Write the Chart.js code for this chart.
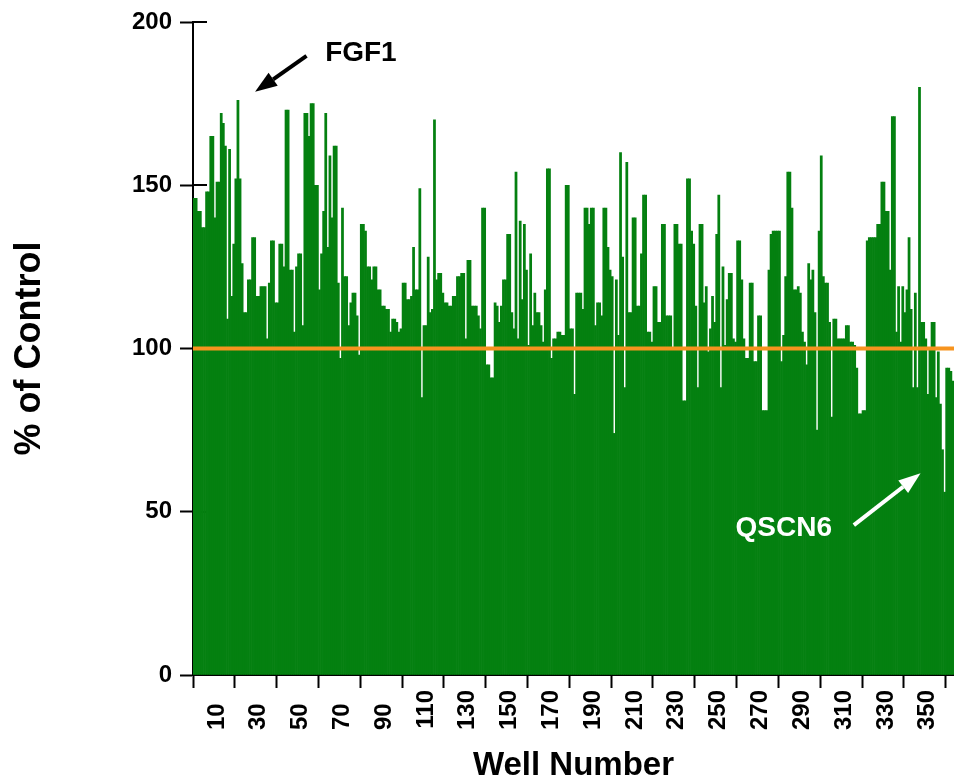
<!DOCTYPE html>
<html>
<head>
<meta charset="utf-8">
<script src="https://cdn.jsdelivr.net/npm/chart.js@4.4.1/dist/chart.umd.min.js"></script>
<style>
  html, body { margin: 0; padding: 0; background: #ffffff; }
  #wrap { width: 954px; height: 784px; }
</style>
</head>
<body>
<div id="wrap"><canvas id="c" width="954" height="784"></canvas></div>
<script>
// ---- data ----
const percentOfControl = [
  146,146,142,142,137,137,148,148,165,165,140,151,151,172,169,162,109,161,116,132,
  152,176,152,126,111,111,121,121,134,134,116,116,119,119,119,103,120,133,133,114,
  114,132,132,125,173,173,124,124,105,125,129,129,107,172,172,165,175,175,150,150,
  118,129,142,172,131,159,140,162,162,120,97,143,122,122,107,114,117,117,110,98,
  138,138,136,125,125,121,125,125,118,118,113,113,112,112,105,109,109,108,105,106,
  120,120,115,115,116,131,118,118,149,85,107,107,128,111,112,170,121,123,123,117,
  114,114,113,113,116,116,122,122,123,123,103,127,127,113,113,113,110,106,143,143,
  95,95,91,91,114,113,108,113,121,121,135,135,111,106,154,103,139,115,138,124,
  101,129,107,117,111,111,107,102,118,155,155,97,103,103,105,105,104,104,150,150,
  106,106,86,117,117,117,112,143,143,138,143,143,107,114,114,110,143,143,131,124,
  122,74,121,104,160,128,88,157,111,111,140,140,113,113,129,147,147,105,105,102,
  119,119,108,108,138,138,110,110,110,100,138,138,132,132,84,84,152,152,136,132,
  113,88,138,138,114,119,99,106,116,108,135,147,88,125,101,115,123,123,103,102,
  133,133,121,103,97,97,120,120,96,96,110,110,81,81,81,124,135,136,136,136,
  136,96,104,122,154,154,143,118,118,119,117,105,102,95,126,121,124,111,75,136,
  159,122,120,120,108,79,109,109,103,103,103,103,107,107,102,102,101,94,80,80,
  81,81,133,134,134,134,134,138,138,151,151,142,142,124,171,171,105,119,102,119,
  111,118,134,112,88,117,88,180,108,108,103,86,100,108,108,85,99,83,69,56,
  94,94,93,90
];
const wellNumbers = percentOfControl.map((_, i) => i + 1);
const controlLevel = 100;
const xTickValues = [0,10,20,30,40,50,60,70,80,90,100,110,120,130,140,150,160,170,180,190,200,210,220,230,240,250,260,270,280,290,300,310,320,330,340,350,360];
const xLabelledTicks = [10,30,50,70,90,110,130,150,170,190,210,230,250,270,290,310,330,350];
const yTickValues = [0,50,100,150,200];
const xMax = 364;
const annotations = [
  { text: 'FGF1',  color: '#000000', labelWell: 63.2,  labelValue: 190.5, fromWell: 54.3,  fromValue: 189.6, toWell: 29.7,  toValue: 178.6 },
  { text: 'QSCN6', color: '#ffffff', labelWell: 259.5, labelValue: 44.9,  fromWell: 316.1, fromValue: 45.9,  toWell: 348.0, toValue: 61.8 }
];

// ---- rendering ----
const FONT = '"Liberation Sans", Arial, Helvetica, sans-serif';
const GREEN = 'rgb(4,128,16)';
const ORANGE = '#f7941e';

function drawArrow(ctx, x1, y1, x2, y2, color, headLen, headHalf, width) {
  const ang = Math.atan2(y2 - y1, x2 - x1);
  const bx = x2 - headLen * Math.cos(ang), by = y2 - headLen * Math.sin(ang);
  ctx.save();
  ctx.strokeStyle = color; ctx.fillStyle = color; ctx.lineWidth = width;
  ctx.beginPath(); ctx.moveTo(x1, y1); ctx.lineTo(bx, by); ctx.stroke();
  ctx.beginPath();
  ctx.moveTo(x2, y2);
  ctx.lineTo(bx + headHalf * Math.sin(ang), by - headHalf * Math.cos(ang));
  ctx.lineTo(bx - headHalf * Math.sin(ang), by + headHalf * Math.cos(ang));
  ctx.closePath(); ctx.fill();
  ctx.restore();
}

const innerTicks = {
  id: 'innerTicks',
  beforeDatasetsDraw(chart) {
    const ctx = chart.ctx, ys = chart.scales.y, left = chart.chartArea.left;
    ctx.save();
    ctx.strokeStyle = '#000'; ctx.lineWidth = 2;
    ys.ticks.forEach(t => {
      const py = Math.round(ys.getPixelForValue(t.value));
      ctx.beginPath(); ctx.moveTo(left, py); ctx.lineTo(left + 14, py); ctx.stroke();
    });
    ctx.restore();
  }
};

const notes = {
  id: 'notes',
  afterDatasetsDraw(chart) {
    const ctx = chart.ctx, xs = chart.scales.x, ys = chart.scales.y;
    annotations.forEach(a => {
      ctx.save();
      ctx.font = 'bold 28px ' + FONT;
      ctx.fillStyle = a.color;
      ctx.textAlign = 'left';
      ctx.textBaseline = 'middle';
      ctx.fillText(a.text, xs.getPixelForValue(a.labelWell), ys.getPixelForValue(a.labelValue));
      ctx.restore();
      drawArrow(ctx,
        xs.getPixelForValue(a.fromWell), ys.getPixelForValue(a.fromValue),
        xs.getPixelForValue(a.toWell), ys.getPixelForValue(a.toValue),
        a.color, 22, 8, 4);
    });
  }
};

new Chart(document.getElementById('c'), {
  data: {
    datasets: [
      {
        type: 'line',
        label: 'Control',
        data: [{ x: 0, y: controlLevel }, { x: xMax, y: controlLevel }],
        borderColor: ORANGE,
        borderWidth: 4,
        pointRadius: 0,
        order: 0
      },
      {
        type: 'bar',
        label: '% of Control',
        data: percentOfControl.map((v, i) => ({ x: wellNumbers[i] - 0.5, y: v })),
        backgroundColor: GREEN,
        borderWidth: 0,
        barPercentage: 1,
        categoryPercentage: 1,
        order: 1
      }
    ]
  },
  options: {
    responsive: false,
    animation: false,
    devicePixelRatio: 1,
    layout: { padding: { top: 22, right: 0, left: 0, bottom: 0 } },
    plugins: { legend: { display: false }, tooltip: { enabled: false } },
    scales: {
      x: {
        type: 'linear',
        offset: false,
        min: 0,
        max: xMax,
        afterBuildTicks: s => { s.ticks = xTickValues.map(v => ({ value: v })); },
        afterFit: s => { s.height = 109; s.paddingRight = 0; s.paddingLeft = 0; },
        grid: {
          offset: false,
          drawOnChartArea: false,
          tickLength: 13,
          tickWidth: 2,
          tickColor: c => (c.tick && c.tick.value % 20 === 0) ? '#000000' : 'rgba(0,0,0,0)'
        },
        border: { display: true, color: '#000000', width: 2 },
        ticks: {
          autoSkip: false,
          minRotation: 90,
          maxRotation: 90,
          padding: 2,
          labelOffset: 3,
          color: '#000000',
          font: { family: FONT, size: 24, weight: 'bold' },
          callback: v => xLabelledTicks.includes(v) ? (String(v).length < 3 ? String(v) + '\u2007' : String(v)) : ''
        },
        title: {
          display: true,
          text: 'Well Number',
          color: '#000000',
          font: { family: FONT, size: 33, weight: 'bold', lineHeight: 1 },
          padding: { top: 0, bottom: 1.5 }
        }
      },
      y: {
        min: 0,
        max: 200,
        afterBuildTicks: s => { s.ticks = yTickValues.map(v => ({ value: v })); },
        afterFit: s => { s.width = 193; s.paddingTop = 0; s.paddingBottom = 0; },
        grid: { drawOnChartArea: false, tickLength: 13, tickWidth: 2, tickColor: '#000000' },
        border: { display: true, color: '#000000', width: 2 },
        ticks: {
          padding: 8,
          color: '#000000',
          font: { family: FONT, size: 24, weight: 'bold' }
        },
        title: {
          display: true,
          text: '% of Control',
          color: '#000000',
          font: { family: FONT, size: 36, weight: 'bold', lineHeight: 1 },
          padding: { top: 12, bottom: 0 }
        }
      }
    }
  },
  plugins: [innerTicks, notes]
});
</script>
</body>
</html>
